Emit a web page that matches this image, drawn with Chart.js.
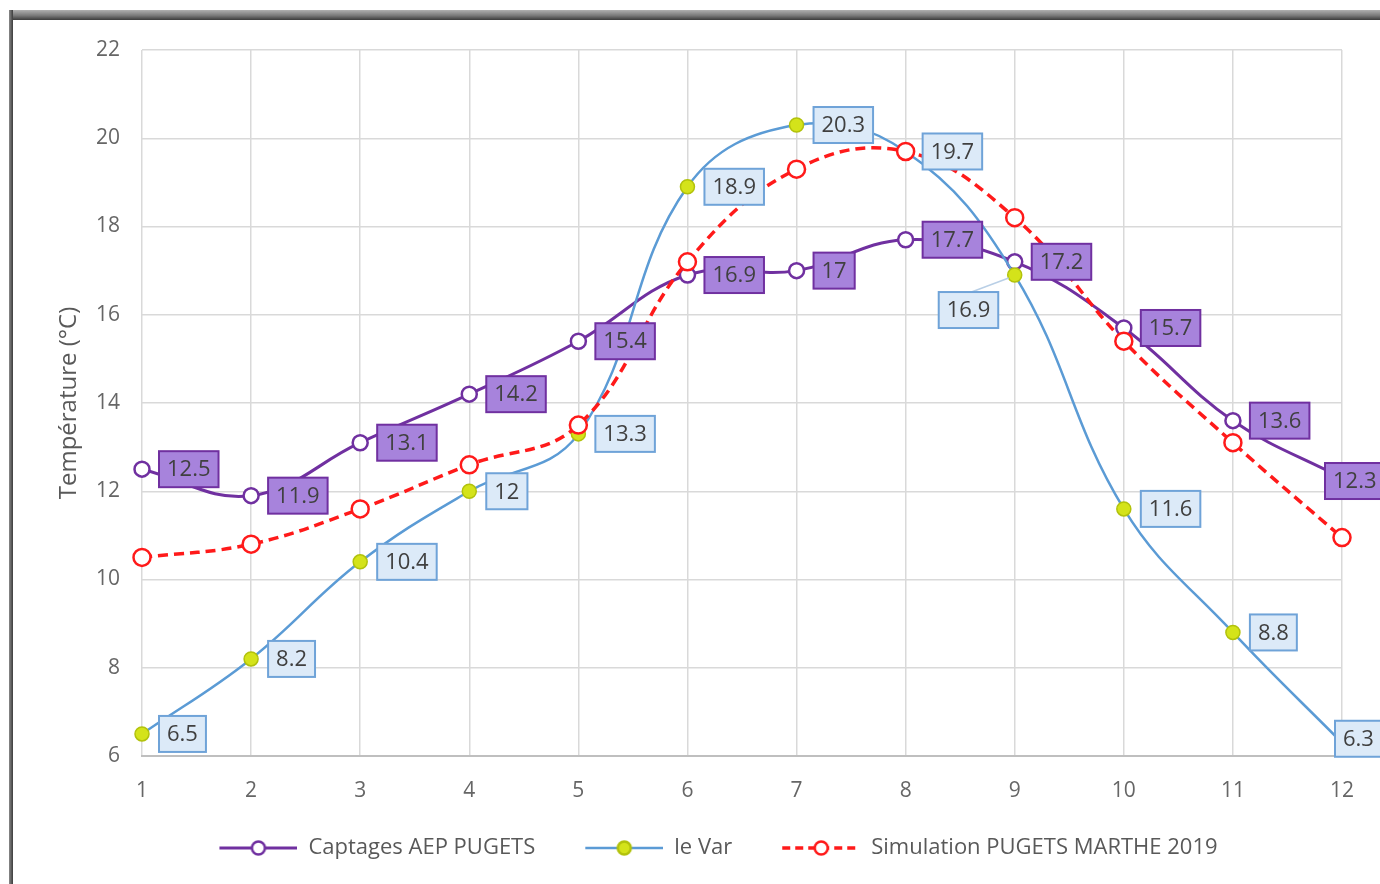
<!DOCTYPE html>
<html>
<head>
<meta charset="utf-8">
<title>Température</title>
<script src="https://cdn.jsdelivr.net/npm/chart.js@4.4.1/dist/chart.umd.min.js"></script>
<style>
    html, body { margin: 0; padding: 0; background: #fff; }
    #wrap { position: relative; width: 1380px; height: 884px; overflow: hidden; }
    #chart { position: absolute; left: 0; top: 0; }
    .frame-top { position: absolute; left: 9px; top: 10px; width: 1371px; height: 10px;
        background: linear-gradient(#b0b0b0, #7a7a7a 55%, #3c3c3c); }
    .frame-left { position: absolute; left: 9px; top: 10px; width: 4px; height: 874px;
        background: linear-gradient(to right, #8a8a8a, #3c3c3c); }
</style>
</head>
<body>
<div id="wrap">
    <canvas id="chart" width="1380" height="884"></canvas>
    <div class="frame-top"></div>
    <div class="frame-left"></div>
</div>
<script>
// Data
const months = ['1', '2', '3', '4', '5', '6', '7', '8', '9', '10', '11', '12'];
const captagesAep = [12.5, 11.9, 13.1, 14.2, 15.4, 16.9, 17, 17.7, 17.2, 15.7, 13.6, 12.3];
const leVar = [6.5, 8.2, 10.4, 12, 13.3, 18.9, 20.3, 19.7, 16.9, 11.6, 8.8, 6.3];
const simulation = [10.5, 10.8, 11.6, 12.6, 13.5, 17.2, 19.3, 19.7, 18.2, 15.4, 13.1, 10.95];
const seriesNames = ['Captages AEP PUGETS', 'le Var', 'Simulation PUGETS MARTHE 2019'];
const yMin = 6, yMax = 22, yStep = 2;

const FONT = '"Open Sans", "Noto Sans", sans-serif';
const PURPLE = '#7030a0';
const BLUE = '#5b9bd5';
const RED = '#ff1a1a';

// label boxes (only the two measured series have labels)
const labelStyles = [
    { fill: '#a783dc', stroke: '#7030a0' },
    { fill: '#dceaf8', stroke: '#6fa3d8' },
    null
];
// a few labels are not placed at the default right side of the point
const labelMoves = {
    '1-8': { dx: -76, dy: 35, leader: true },
    '0-11': { dx: -17, dy: 3 },
    '1-11': { dx: -7, dy: -4 }
};

// small canvas for the legend sample: line with a marker in the middle
function legendSample(color, fill, width, dash, border) {
    const c = document.createElement('canvas');
    c.width = 118;
    c.height = 22;
    const ctx = c.getContext('2d');
    ctx.strokeStyle = color;
    ctx.lineWidth = width;
    ctx.setLineDash(dash);
    ctx.beginPath();
    ctx.moveTo(40, 11);
    ctx.lineTo(118, 11);
    ctx.stroke();
    ctx.setLineDash([]);
    ctx.beginPath();
    ctx.arc(79, 11, 6.5, 0, Math.PI * 2);
    ctx.fillStyle = fill;
    ctx.fill();
    ctx.strokeStyle = border;
    ctx.lineWidth = 2.5;
    ctx.stroke();
    return c;
}
const legendImages = [
    legendSample(PURPLE, '#fff', 3, [], PURPLE),
    legendSample(BLUE, '#d4e31a', 2.5, [], '#b2c20c'),
    legendSample(RED, '#fff', 3.5, [8, 5], RED)
];

const dataLabelsPlugin = {
    id: 'dataLabels',
    afterDatasetsDraw(chart) {
        const ctx = chart.ctx;
        ctx.save();
        ctx.font = '22px ' + FONT;
        ctx.textAlign = 'center';
        ctx.textBaseline = 'middle';
        [1, 0].forEach(di => {
            const style = labelStyles[di];
            if (!style) return;
            const meta = chart.getDatasetMeta(di);
            const values = chart.data.datasets[di].data;
            meta.data.forEach((pt, i) => {
                const text = String(values[i]);
                const move = labelMoves[di + '-' + i] || {};
                const w = ctx.measureText(text).width + 16;
                const h = 36;
                const bx = pt.x + (move.dx !== undefined ? move.dx : 17);
                const by = pt.y + (move.dy || 0) - h / 2;
                if (move.leader) {
                    ctx.strokeStyle = '#b9cfe6';
                    ctx.lineWidth = 1.5;
                    ctx.beginPath();
                    ctx.moveTo(bx + w * 0.55, by);
                    ctx.lineTo(pt.x - 6, pt.y + 3);
                    ctx.stroke();
                }
                ctx.fillStyle = style.fill;
                ctx.fillRect(bx, by, w, h);
                ctx.strokeStyle = style.stroke;
                ctx.lineWidth = 2;
                ctx.strokeRect(bx, by, w, h);
                ctx.fillStyle = '#404040';
                ctx.fillText(text, bx + w / 2, by + h / 2 + 1);
            });
        });
        ctx.restore();
    }
};

new Chart(document.getElementById('chart'), {
    type: 'line',
    data: {
        labels: months,
        datasets: [{
            label: seriesNames[0],
            data: captagesAep,
            borderColor: PURPLE,
            borderWidth: 3,
            backgroundColor: '#fff',
            pointBackgroundColor: '#fff',
            pointBorderColor: PURPLE,
            pointBorderWidth: 2.5,
            pointRadius: 7.5,
            tension: 0.4,
            clip: false,
            order: 3
        }, {
            label: seriesNames[1],
            data: leVar,
            borderColor: BLUE,
            borderWidth: 2.5,
            backgroundColor: '#d4e31a',
            pointBackgroundColor: '#d4e31a',
            pointBorderColor: '#b2c20c',
            pointBorderWidth: 1.5,
            pointRadius: 7,
            tension: 0.4,
            clip: false,
            order: 2
        }, {
            label: seriesNames[2],
            data: simulation,
            borderColor: RED,
            borderWidth: 3.5,
            borderDash: [10, 6],
            backgroundColor: '#fff',
            pointBackgroundColor: '#fff',
            pointBorderColor: RED,
            pointBorderWidth: 2.5,
            pointRadius: 8.5,
            tension: 0.4,
            clip: false,
            order: 1
        }]
    },
    options: {
        responsive: false,
        animation: false,
        devicePixelRatio: 1,
        layout: { padding: { left: 55, top: 50, right: 38, bottom: 15 } },
        scales: {
            x: {
                offset: false,
                grid: { color: '#d9d9d9', lineWidth: 1.5, drawTicks: false },
                border: { color: '#bfbfbf', width: 2 },
                ticks: { color: '#666', padding: 22, font: { family: FONT, size: 21 } },
                afterFit: scale => { scale.height = 71; }
            },
            y: {
                min: yMin,
                max: yMax,
                grid: { color: '#d9d9d9', lineWidth: 1.5, drawTicks: false },
                border: { display: false },
                ticks: { stepSize: yStep, color: '#666', padding: 22, font: { family: FONT, size: 21 } },
                title: {
                    display: true,
                    text: 'Température (°C)',
                    color: '#595959',
                    font: { family: FONT, size: 24 },
                    padding: { top: 0, bottom: 0 }
                },
                afterFit: scale => { scale.width = 142 - 55; }
            }
        },
        plugins: {
            legend: {
                position: 'bottom',
                labels: {
                    usePointStyle: true,
                    pointStyleWidth: 118,
                    padding: 10,
                    color: '#595959',
                    font: { family: FONT, size: 22 },
                    sort: (a, b) => a.datasetIndex - b.datasetIndex,
                    generateLabels: chart => {
                        const items = Chart.defaults.plugins.legend.labels.generateLabels(chart);
                        items.forEach(it => { it.pointStyle = legendImages[it.datasetIndex]; });
                        return items;
                    }
                }
            },
            tooltip: { enabled: false }
        }
    },
    plugins: [dataLabelsPlugin]
});
</script>
</body>
</html>
